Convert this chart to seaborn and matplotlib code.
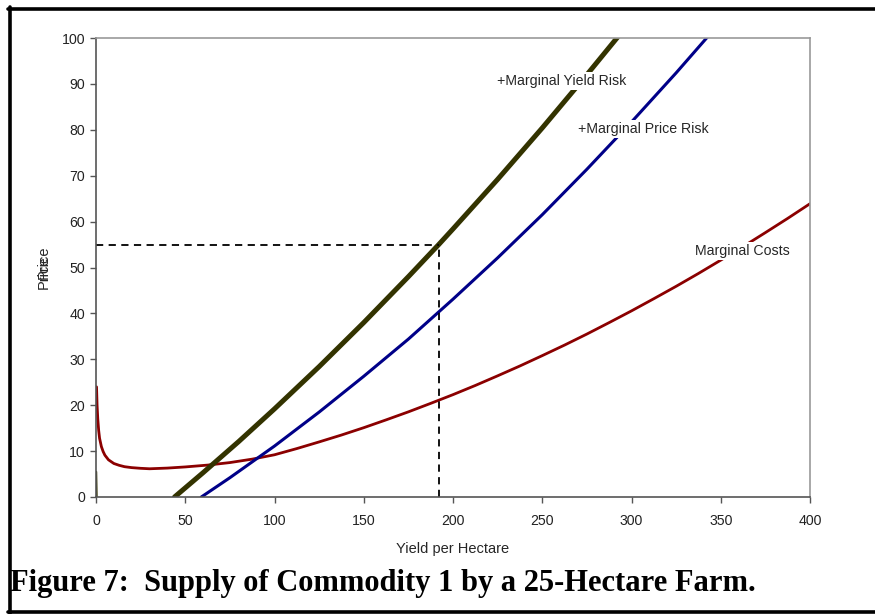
import matplotlib
matplotlib.use('Agg')
import numpy as np
import pandas as pd
import matplotlib.pyplot as plt
import seaborn as sns
from matplotlib.lines import Line2D

# marginal costs
mc_x = [0.3, 0.6, 1, 1.5, 2, 3, 4, 5, 7, 10, 13, 16, 20, 25, 30, 40, 50, 62.5,
        75, 87.5, 100, 112.5, 125, 137.5, 150, 162.5, 175, 187.5, 200, 212.5,
        225, 237.5, 250, 262.5, 275, 287.5, 300, 312.5, 325, 337.5, 350, 362.5,
        375, 387.5, 400]
mc_y = [24, 20, 17, 14.5, 12.8, 11, 9.9, 9.1, 8.1, 7.3, 6.9, 6.6, 6.4, 6.25,
        6.15, 6.3, 6.55, 6.95, 7.5, 8.25, 9.2, 10.55, 12.0, 13.5, 15.1, 16.8,
        18.55, 20.4, 22.3, 24.3, 26.4, 28.55, 30.8, 33.1, 35.5, 38.0, 40.55,
        43.2, 45.9, 48.7, 51.6, 54.55, 57.6, 60.7, 63.9]

# + marginal price risk
pr_x = [59, 75, 100, 125, 150, 175, 200, 225, 250, 275, 300, 325, 345]
pr_y = [0, 4.2, 11.1, 18.5, 26.3, 34.4, 43.1, 52.1, 61.5, 71.4, 81.7, 92.4, 101.3]

# + marginal yield risk
yr_x = [44, 60, 80, 100, 125, 150, 175, 192, 200, 225, 250, 275, 295]
yr_y = [0, 5.3, 12.1, 19.2, 28.4, 38.0, 48.0, 55, 58.4, 69.2, 80.4, 92.0, 101.5]
yr_spike_x = [0.1, 0.6]
yr_spike_y = [5.5, -5]

# supply point
q_star = 192
p_star = 55

xticks = [0, 50, 100, 150, 200, 250, 300, 350, 400]
yticks = [0, 10, 20, 30, 40, 50, 60, 70, 80, 90, 100]

sns.set_style('white')
plt.rcParams['font.family'] = ['Liberation Sans', 'DejaVu Sans']

fig = plt.figure(figsize=(8.75, 6.14), dpi=100)
ax = fig.add_axes([96 / 875, 1 - 497 / 614, 714 / 875, 459 / 614])

df_mc = pd.DataFrame({'x': mc_x, 'y': mc_y})
df_pr = pd.DataFrame({'x': pr_x, 'y': pr_y})
df_yr = pd.DataFrame({'x': yr_x, 'y': yr_y})
df_sp = pd.DataFrame({'x': yr_spike_x, 'y': yr_spike_y})

sns.lineplot(data=df_mc, x='x', y='y', ax=ax, color='#8b0000', lw=2, estimator=None, sort=False)
sns.lineplot(data=df_pr, x='x', y='y', ax=ax, color='#000088', lw=2.2, estimator=None, sort=False)
sns.lineplot(data=df_yr, x='x', y='y', ax=ax, color='#333300', lw=3.6, estimator=None, sort=False)
sns.lineplot(data=df_sp, x='x', y='y', ax=ax, color='#333300', lw=1.5, estimator=None, sort=False)

ax.plot([0, q_star], [p_star, p_star], color='black', lw=1.3, ls=(0, (4, 3)))
ax.plot([q_star, q_star], [0, p_star], color='black', lw=1.3, ls=(0, (4, 3)))

ax.set_xlim(0, 400)
ax.set_ylim(0, 100)
ax.set_xticks(xticks)
ax.set_yticks(yticks)
ax.tick_params(axis='both', direction='out', length=4, width=1, color='#555555',
               labelsize=10.2, colors='#222222', bottom=True, left=True)
ax.tick_params(axis='x', pad=8)
ax.tick_params(axis='y', pad=4)
for s in ['left', 'bottom']:
    ax.spines[s].set_color('#555555')
    ax.spines[s].set_linewidth(1.2)
for s in ['top', 'right']:
    ax.spines[s].set_color('#999999')
    ax.spines[s].set_linewidth(1.2)

ax.set_xlabel('Yield per Hectare', fontsize=10.5, labelpad=10)
ax.set_ylabel('')
fig.text(44 / 875, 1 - 262 / 614, 'Price', rotation=90, fontsize=10.5, ha='center', va='center')
fig.text(44 / 875, 1 - 272 / 614, 'Price', rotation=90, fontsize=10.5, ha='center', va='center')

bbox = dict(facecolor='white', edgecolor='none', pad=1.5)
ax.text(224.5, 90.6, '+Marginal Yield Risk', fontsize=10.2, va='center', bbox=bbox)
ax.text(270, 80.2, '+Marginal Price Risk', fontsize=10.2, va='center', bbox=bbox)
ax.text(335.5, 53.6, 'Marginal Costs', fontsize=10.2, va='center', bbox=bbox)

fig.text(10 / 875, 1 - 583 / 614, 'Figure 7:  Supply of Commodity 1 by a 25-Hectare Farm.',
         family=['Liberation Serif', 'DejaVu Serif'], fontweight='bold', fontsize=22,
         va='center', ha='left', color='black')

# black frame (left, top, bottom)
fig.add_artist(Line2D([9.5 / 875, 9.5 / 875], [0, 1 - 7 / 614], color='black', lw=2.6))
fig.add_artist(Line2D([8 / 875, 1], [1 - 8.5 / 614, 1 - 8.5 / 614], color='black', lw=2.6))
fig.add_artist(Line2D([8 / 875, 1], [1 - 611.5 / 614, 1 - 611.5 / 614], color='black', lw=2.6))

fig.savefig('out.png', dpi=100)
